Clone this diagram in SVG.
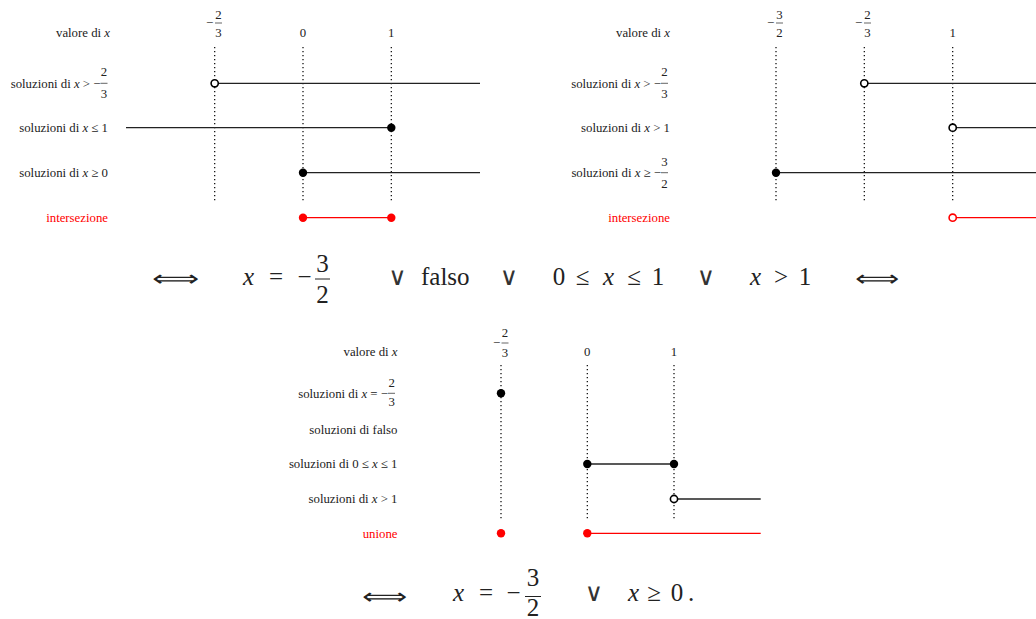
<svg xmlns="http://www.w3.org/2000/svg" width="1036" height="619" viewBox="0 0 1036 619">
<style>
text { font-family: "Liberation Serif", "DejaVu Serif", serif; fill: #222; }
.l { font-size: 12.8px; text-anchor: end; }
.c { font-size: 12.8px; text-anchor: middle; }
.i { font-style: italic; }
.red { fill: #ff0000; }
.dots { stroke: #000; stroke-width: 1.2; stroke-dasharray: 1.3 2.7; fill: none; }
.seg { stroke: #222; stroke-width: 1.3; fill: none; }
.rseg { stroke: #ff0000; stroke-width: 1.3; fill: none; }
.bar { stroke: #222; stroke-width: 0.7; }
.fbar { stroke: #222; stroke-width: 1; }
.full { fill: #000; }
.open { fill: #fff; stroke: #000; stroke-width: 1.6; }
.rfull { fill: #ff0000; }
.ropen { fill: #fff; stroke: #ff0000; stroke-width: 1.6; }
.m { font-family: "Liberation Serif", serif; font-size: 25px; text-anchor: middle; }
.ms { font-family: "Liberation Serif", serif; font-size: 25px; }
.or { font-family: "DejaVu Sans", sans-serif; font-size: 25px; text-anchor: middle; fill: #333; }
.arr { font-family: "DejaVu Sans", sans-serif; font-size: 22px; font-weight: 200; }
</style>

<!-- Diagram 1: intersection (top-left) -->
<g id="chart1">
  <g id="chart1-header">
    <text class="l" x="110" y="37">valore di <tspan class="i">x</tspan></text>
    <text class="c" x="209.5" y="27">−</text>
    <text class="c" x="218.5" y="19">2</text>
    <line class="bar" x1="215" y1="23" x2="222" y2="23"/>
    <text class="c" x="218.5" y="37">3</text>
    <text class="c" x="303" y="37">0</text>
    <text class="c" x="391.3" y="37">1</text>
  </g>
  <g id="chart1-guides">
    <line class="dots" x1="214.7" y1="47" x2="214.7" y2="203"/>
    <line class="dots" x1="303" y1="47" x2="303" y2="203"/>
    <line class="dots" x1="391.3" y1="47" x2="391.3" y2="203"/>
  </g>
  <g id="chart1-row1">
    <text class="l" x="100.5" y="87.5">soluzioni di <tspan class="i">x</tspan> &gt; −</text>
    <text class="c" x="104" y="76">2</text>
    <line class="bar" x1="100.5" y1="83.3" x2="107.5" y2="83.3"/>
    <text class="c" x="104" y="98">3</text>
    <line class="seg" x1="214.7" y1="83.3" x2="480" y2="83.3"/>
    <circle class="open" cx="214.7" cy="83.3" r="3.6"/>
  </g>
  <g id="chart1-row2">
    <text class="l" x="108" y="132">soluzioni di <tspan class="i">x</tspan> ≤ 1</text>
    <line class="seg" x1="126" y1="127.7" x2="391.3" y2="127.7"/>
    <circle class="full" cx="391.3" cy="127.7" r="4.2"/>
  </g>
  <g id="chart1-row3">
    <text class="l" x="108" y="177">soluzioni di <tspan class="i">x</tspan> ≥ 0</text>
    <line class="seg" x1="303" y1="172.7" x2="480" y2="172.7"/>
    <circle class="full" cx="303" cy="172.7" r="4.2"/>
  </g>
  <g id="chart1-result">
    <text class="l red" x="108" y="222">intersezione</text>
    <line class="rseg" x1="303" y1="217.7" x2="391.3" y2="217.7"/>
    <circle class="rfull" cx="303" cy="217.7" r="4.2"/>
    <circle class="rfull" cx="391.3" cy="217.7" r="4.2"/>
  </g>
</g>

<!-- Diagram 2: intersection (top-right) -->
<g id="chart2">
  <g id="chart2-header">
    <text class="l" x="670" y="37">valore di <tspan class="i">x</tspan></text>
    <text class="c" x="770.5" y="27">−</text>
    <text class="c" x="779.5" y="19">3</text>
    <line class="bar" x1="776" y1="23" x2="783" y2="23"/>
    <text class="c" x="779.5" y="37">2</text>
    <text class="c" x="858.5" y="27">−</text>
    <text class="c" x="867.5" y="19">2</text>
    <line class="bar" x1="864" y1="23" x2="871" y2="23"/>
    <text class="c" x="867.5" y="37">3</text>
    <text class="c" x="952.7" y="37">1</text>
  </g>
  <g id="chart2-guides">
    <line class="dots" x1="776" y1="47" x2="776" y2="203"/>
    <line class="dots" x1="864.3" y1="47" x2="864.3" y2="203"/>
    <line class="dots" x1="952.7" y1="47" x2="952.7" y2="203"/>
  </g>
  <g id="chart2-row1">
    <text class="l" x="661" y="87.5">soluzioni di <tspan class="i">x</tspan> &gt; −</text>
    <text class="c" x="664.5" y="76">2</text>
    <line class="bar" x1="661" y1="83.3" x2="668" y2="83.3"/>
    <text class="c" x="664.5" y="98">3</text>
    <line class="seg" x1="864.3" y1="83.3" x2="1040" y2="83.3"/>
    <circle class="open" cx="864.3" cy="83.3" r="3.6"/>
  </g>
  <g id="chart2-row2">
    <text class="l" x="670" y="132">soluzioni di <tspan class="i">x</tspan> &gt; 1</text>
    <line class="seg" x1="952.7" y1="127.7" x2="1040" y2="127.7"/>
    <circle class="open" cx="952.7" cy="127.7" r="3.6"/>
  </g>
  <g id="chart2-row3">
    <text class="l" x="661" y="177">soluzioni di <tspan class="i">x</tspan> ≥ −</text>
    <text class="c" x="664.5" y="165.5">3</text>
    <line class="bar" x1="661" y1="172.7" x2="668" y2="172.7"/>
    <text class="c" x="664.5" y="187.5">2</text>
    <line class="seg" x1="776" y1="172.7" x2="1040" y2="172.7"/>
    <circle class="full" cx="776" cy="172.7" r="4.2"/>
  </g>
  <g id="chart2-result">
    <text class="l red" x="670" y="222">intersezione</text>
    <line class="rseg" x1="952.7" y1="217.7" x2="1040" y2="217.7"/>
    <circle class="ropen" cx="952.7" cy="217.7" r="3.6"/>
  </g>
</g>

<!-- Equation 1 -->
<g id="equation1">
  <text class="arr" x="152" y="286" textLength="48" lengthAdjust="spacingAndGlyphs">⟺</text>
  <text class="ms i" x="243" y="285">x</text>
  <text class="m" x="276" y="285">=</text>
  <text class="m" x="304.5" y="285">−</text>
  <text class="m" x="322.5" y="271.5">3</text>
  <line class="fbar" x1="315" y1="279" x2="330" y2="279"/>
  <text class="m" x="322.5" y="303">2</text>
  <text class="or" x="397.5" y="285">∨</text>
  <text class="ms" x="421" y="285">falso</text>
  <text class="or" x="509" y="285">∨</text>
  <text class="m" x="559" y="285">0</text>
  <text class="m" x="582.5" y="285">≤</text>
  <text class="m i" x="608.5" y="285">x</text>
  <text class="m" x="634" y="285">≤</text>
  <text class="m" x="658" y="285">1</text>
  <text class="or" x="706" y="285">∨</text>
  <text class="m i" x="755.5" y="285">x</text>
  <text class="m" x="781" y="285">&gt;</text>
  <text class="m" x="805" y="285">1</text>
  <text class="arr" x="855" y="286" textLength="45" lengthAdjust="spacingAndGlyphs">⟺</text>
</g>

<!-- Diagram 3: union (bottom) -->
<g id="chart3">
  <g id="chart3-header">
    <text class="l" x="397.5" y="356">valore di <tspan class="i">x</tspan></text>
    <text class="c" x="496.5" y="347">−</text>
    <text class="c" x="505" y="337">2</text>
    <line class="bar" x1="501.5" y1="343" x2="508.5" y2="343"/>
    <text class="c" x="505" y="357">3</text>
    <text class="c" x="587.3" y="356">0</text>
    <text class="c" x="674" y="356">1</text>
  </g>
  <g id="chart3-guides">
    <line class="dots" x1="501" y1="365" x2="501" y2="520"/>
    <line class="dots" x1="587.3" y1="365" x2="587.3" y2="520"/>
    <line class="dots" x1="674" y1="365" x2="674" y2="520"/>
  </g>
  <g id="chart3-row1">
    <text class="l" x="388" y="397.5">soluzioni di <tspan class="i">x</tspan> = −</text>
    <text class="c" x="391.7" y="387">2</text>
    <line class="bar" x1="388" y1="393.3" x2="395" y2="393.3"/>
    <text class="c" x="391.7" y="406">3</text>
    <circle class="full" cx="501" cy="393.3" r="4.2"/>
  </g>
  <g id="chart3-row2">
    <text class="l" x="397.5" y="434.3">soluzioni di falso</text>
  </g>
  <g id="chart3-row3">
    <text class="l" x="397.5" y="468.3">soluzioni di 0 ≤ <tspan class="i">x</tspan> ≤ 1</text>
    <line class="seg" x1="587.3" y1="464" x2="674" y2="464"/>
    <circle class="full" cx="587.3" cy="464" r="4.2"/>
    <circle class="full" cx="674" cy="464" r="4.2"/>
  </g>
  <g id="chart3-row4">
    <text class="l" x="397.5" y="503.3">soluzioni di <tspan class="i">x</tspan> &gt; 1</text>
    <line class="seg" x1="674" y1="499" x2="760.7" y2="499"/>
    <circle class="open" cx="674" cy="499" r="3.6"/>
  </g>
  <g id="chart3-result">
    <text class="l red" x="397.5" y="537.6">unione</text>
    <line class="rseg" x1="587.3" y1="533.3" x2="760.7" y2="533.3"/>
    <circle class="rfull" cx="501" cy="533.3" r="4.2"/>
    <circle class="rfull" cx="587.3" cy="533.3" r="4.2"/>
  </g>
</g>

<!-- Equation 2 -->
<g id="equation2">
  <text class="arr" x="362" y="604" textLength="46" lengthAdjust="spacingAndGlyphs">⟺</text>
  <text class="ms i" x="453" y="601">x</text>
  <text class="m" x="486" y="601">=</text>
  <text class="m" x="513.5" y="601">−</text>
  <text class="m" x="533" y="585.5">3</text>
  <line class="fbar" x1="525" y1="596.5" x2="541" y2="596.5"/>
  <text class="m" x="533" y="616">2</text>
  <text class="or" x="594" y="601">∨</text>
  <text class="ms i" x="628" y="601">x</text>
  <text class="m" x="654" y="601">≥</text>
  <text class="m" x="677" y="601">0</text>
  <text class="m" x="691" y="601">.</text>
</g>
</svg>
